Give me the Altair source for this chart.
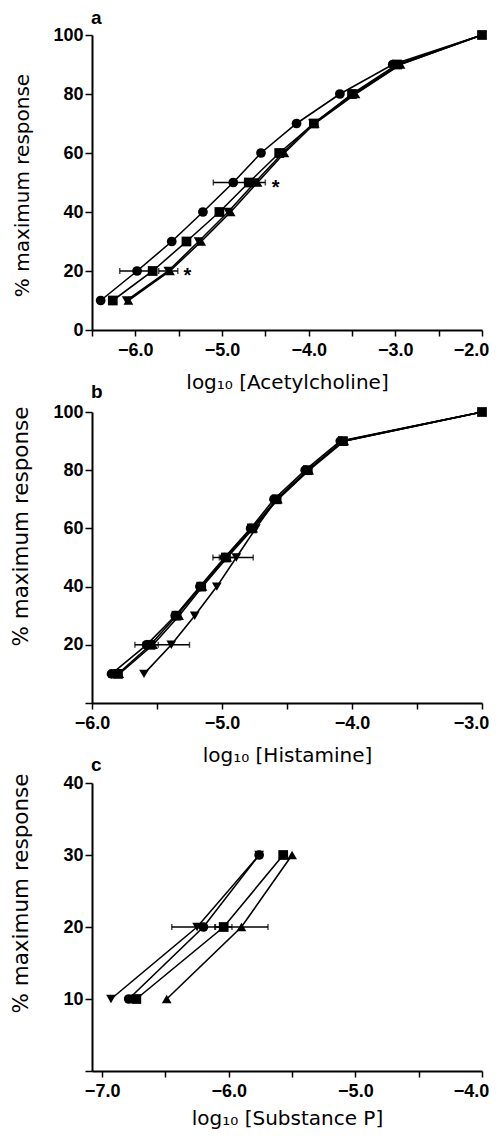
import altair as alt
import pandas as pd

# ---------------- data ----------------
series_names = ["circle", "square", "triangle-up", "triangle-down"]

# Panel a: acetylcholine
ach_resp = [10, 20, 30, 40, 50, 60, 70, 80, 90, 100]
ach_circle = [-6.40, -5.98, -5.58, -5.22, -4.87, -4.55, -4.14, -3.64, -3.03, -2.0]
ach_square = [-6.26, -5.80, -5.41, -5.03, -4.69, -4.34, -3.94, -3.50, -2.98, -2.0]
ach_up = [-6.08, -5.60, -5.24, -4.90, -4.59, -4.28, -3.93, -3.46, -2.94, -2.0]
ach_down = [-6.10, -5.62, -5.27, -4.93, -4.62, -4.30, -3.95, -3.48, -2.95, -2.0]
ach_err_resp = [20, 50, 20, 50]
ach_err_x = [-5.98, -4.87, -5.62, -4.62]
ach_err_sd = [0.20, 0.23, 0.11, 0.12]
ach_star_x = [-5.40, -4.38]
ach_star_resp = [20, 50]

# Panel b: histamine
his_resp = [10, 20, 30, 40, 50, 60, 70, 80, 90, 100]
his_circle = [-5.85, -5.58, -5.36, -5.17, -4.98, -4.78, -4.60, -4.36, -4.09, -3.0]
his_square = [-5.80, -5.55, -5.35, -5.16, -4.97, -4.77, -4.58, -4.34, -4.07, -3.0]
his_up = [-5.79, -5.53, -5.33, -5.15, -4.96, -4.76, -4.57, -4.33, -4.06, -3.0]
his_down = [-5.60, -5.39, -5.21, -5.04, -4.89, -4.74, -4.58, -4.34, -4.07, -3.0]
his_err_resp = [20, 50, 20, 50]
his_err_x = [-5.58, -4.98, -5.39, -4.89]
his_err_sd = [0.09, 0.09, 0.14, 0.13]

# Panel c: substance P
sp_resp = [10, 20, 30]
sp_circle = [-6.79, -6.20, -5.76]
sp_square = [-6.73, -6.04, -5.57]
sp_up = [-6.49, -5.90, -5.50]
sp_down = [-6.93, -6.25, -5.76]
sp_err_resp = [20, 20, 20]
sp_err_x = [-6.25, -6.04, -5.90]
sp_err_sd = [0.20, 0.065, 0.21]

shape_range = ["circle", "square", "triangle-up", "triangle-down"]

LABEL_FONT = "Liberation Sans"
TITLE_FONT = "DejaVu Sans"


def make_panel(letter, letter_y, resp, xs, err_resp, err_x, err_sd, star_x, star_resp,
               xdomain, xticks, ydomain, yticks, hide_zero, xtitle, xtitle_y, ytitle_size,
               ytitle_y, w, h):
    rows = []
    for name, vals in zip(series_names, xs):
        for r, v in zip(resp, vals):
            rows.append({"series": name, "x": v, "y": r})
    df = pd.DataFrame(rows)
    pts = df[~((df["y"] == 100) & (df["series"] != "square"))]

    xscale = alt.Scale(domain=xdomain, nice=False, zero=False)
    yscale = alt.Scale(domain=ydomain, nice=False, zero=False)
    xaxis = alt.Axis(
        values=xticks,
        labelExpr="datum.value % 1 == 0 ? format(datum.value, '.1f') : ''",
        labelOffset={"condition": {"test": f"datum.value == {xdomain[1]}", "value": -11}, "value": 0},
        title=xtitle, titleY=xtitle_y, titleBaseline="top",
        titleFontSize=20, tickSize=6, labelPadding=5,
        labelFlush=False, labelOverlap=False, labelBound=False,
    )
    ylabel = "datum.value == 0 ? '' : datum.label" if hide_zero else "datum.label"
    yaxis = alt.Axis(
        values=yticks, labelExpr=ylabel,
        title="% maximum response", titleX=-60, titleY=ytitle_y,
        titleAngle=-90, titleBaseline="bottom", titleAlign="center",
        titleFontSize=ytitle_size, tickSize=7, labelPadding=2,
    )
    X = lambda f: alt.X(f, scale=xscale, axis=xaxis)
    Y = alt.Y("y:Q", scale=yscale, axis=yaxis)

    lines = alt.Chart(df).mark_line(color="black", strokeWidth=1.6).encode(
        x=X("x:Q"), y=Y, detail="series:N", order="y:Q"
    )
    points = alt.Chart(pts).mark_point(filled=True, color="black", opacity=1, size=95).encode(
        x=X("x:Q"), y=Y,
        shape=alt.Shape("series:N", scale=alt.Scale(domain=series_names, range=shape_range), legend=None),
    )
    edf = pd.DataFrame({"y": err_resp, "x": err_x, "sd": err_sd})
    edf["lo"] = edf["x"] - edf["sd"]
    edf["hi"] = edf["x"] + edf["sd"]
    rules = alt.Chart(edf).mark_rule(color="black", strokeWidth=1.5).encode(
        x=X("lo:Q"), x2="hi:Q", y=Y
    )
    caps_df = pd.DataFrame({"y": list(edf["y"]) * 2, "cx": list(edf["lo"]) + list(edf["hi"])})
    caps = alt.Chart(caps_df).mark_tick(color="black", orient="vertical", size=6, thickness=1.5).encode(
        x=X("cx:Q"), y=Y
    )
    lab = alt.Chart(pd.DataFrame({"t": [letter]})).mark_text(
        align="left", baseline="alphabetic", font=LABEL_FONT, fontWeight="bold",
        fontSize=19, color="black"
    ).encode(text="t:N", x=alt.value(-1), y=alt.value(letter_y))
    layers = [lines, rules, caps, points, lab]
    if star_x:
        sdf = pd.DataFrame({"x": star_x, "y": star_resp, "t": ["*"] * len(star_x)})
        stars = alt.Chart(sdf).mark_text(
            font=LABEL_FONT, fontWeight="bold", fontSize=20, baseline="alphabetic",
            dy=11, color="black"
        ).encode(x=X("x:Q"), y=Y, text="t:N")
        layers.append(stars)
    return alt.layer(*layers).properties(width=w, height=h)


pa = make_panel("a", -11, ach_resp, [ach_circle, ach_square, ach_up, ach_down],
                ach_err_resp, ach_err_x, ach_err_sd, ach_star_x, ach_star_resp,
                [-6.5, -2.0], [-6.5, -6.0, -5.5, -5.0, -4.5, -4.0, -3.5, -3.0, -2.5, -2.0],
                [0, 100], [0, 20, 40, 60, 80, 100], False,
                "log\u2081\u2080 [Acetylcholine]", 42, 20, 150, 390, 295)
pb = make_panel("b", -14, his_resp, [his_circle, his_square, his_up, his_down],
                his_err_resp, his_err_x, his_err_sd, [], [],
                [-6.0, -3.0], [-6.0, -5.5, -5.0, -4.5, -4.0, -3.5, -3.0],
                [0, 100], [0, 20, 40, 60, 80, 100], True,
                "log\u2081\u2080 [Histamine]", 42, 21.5, 114, 390, 291)
pc = make_panel("c", -12, sp_resp, [sp_circle, sp_square, sp_up, sp_down],
                sp_err_resp, sp_err_x, sp_err_sd, [], [],
                [-7.08, -4.0], [-7.0, -6.5, -6.0, -5.5, -5.0, -4.5, -4.0],
                [0, 40], [0, 10, 20, 30, 40], True,
                "log\u2081\u2080 [Substance P]", 37, 21.5, 110, 390, 288)

chart = alt.vconcat(pa, pb, pc, spacing=-9).properties(
    padding={"left": 1, "top": 1, "right": 0, "bottom": 3},
    background="white",
).configure_view(stroke=None).configure_axis(
    domainColor="black", domainWidth=2, tickColor="black", tickWidth=1.5,
    labelFont=LABEL_FONT, labelFontWeight="bold", labelFontSize=18, labelColor="black",
    titleFont=TITLE_FONT, titleFontWeight="normal", titleColor="black", grid=False,
)

chart.save("out.html", embed_options={"renderer": "svg", "actions": False})
